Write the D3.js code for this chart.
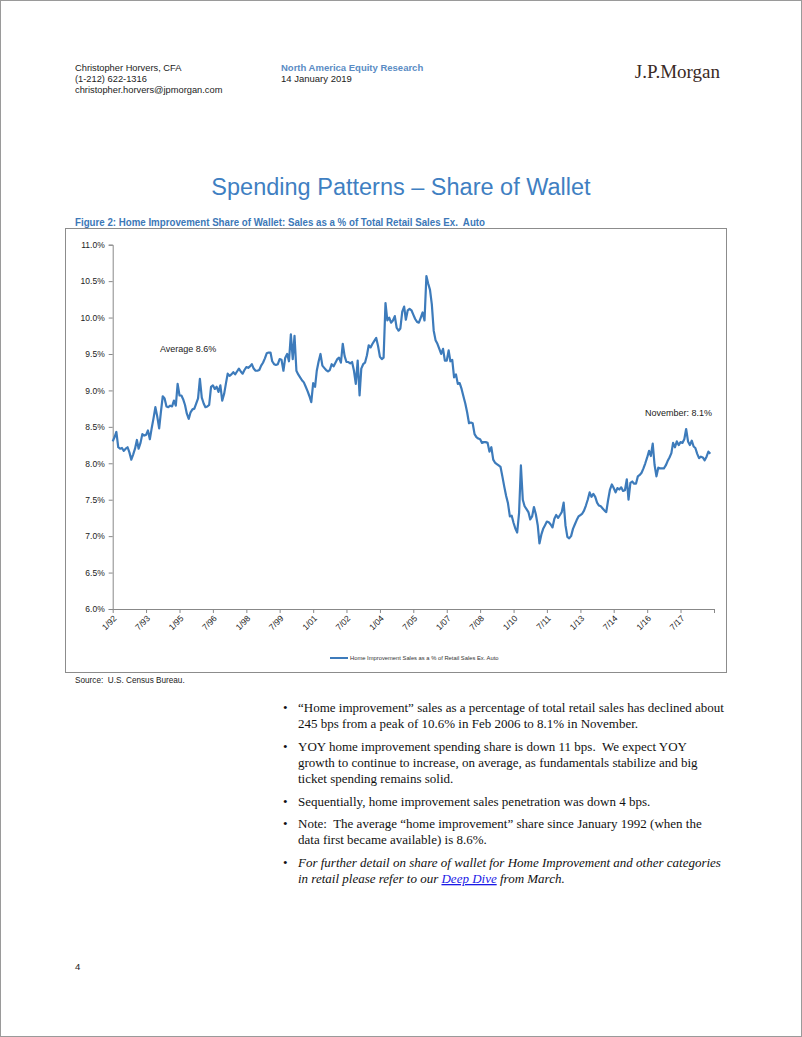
<!DOCTYPE html>
<html>
<head>
<meta charset="utf-8" />
<title>Spending Patterns - Share of Wallet</title>
<script src="https://d3js.org/d3.v7.min.js"></script>
<style>
    body { margin: 0; background: #fff; }
    svg text { font-family: "Liberation Sans", Arial, sans-serif; }
</style>
</head>
<body>
<svg id="page" width="802" height="1037"></svg>

<script>
    // Data: monthly share of wallet (%), Jan 1992 .. Nov 2018
    var startMonth = new Date(1992, 0, 1);
    var shareValues = [
        8.30, 8.36, 8.43, 8.22, 8.20, 8.21, 8.17, 8.20, 8.22, 8.15,
        8.05, 8.12, 8.20, 8.32, 8.20, 8.28, 8.40, 8.38, 8.39, 8.45,
        8.33, 8.48, 8.62, 8.77, 8.64, 8.48, 8.70, 8.92, 8.89, 8.78,
        8.77, 8.79, 8.78, 8.86, 8.79, 9.09, 8.93, 8.93, 8.88, 8.80,
        8.68, 8.61, 8.70, 8.74, 8.75, 8.82, 8.89, 9.16, 8.90, 8.82,
        8.77, 8.78, 8.80, 9.05, 9.07, 9.02, 9.05, 8.98, 9.07, 8.86,
        8.95, 9.10, 9.23, 9.20, 9.22, 9.25, 9.22, 9.26, 9.30, 9.26,
        9.23, 9.28, 9.32, 9.31, 9.33, 9.36, 9.30, 9.27, 9.27, 9.28,
        9.34, 9.38, 9.44, 9.51, 9.52, 9.52, 9.40, 9.36, 9.35, 9.36,
        9.43, 9.42, 9.27, 9.45, 9.50, 9.40, 9.77, 9.43, 9.75, 9.27,
        9.22, 9.18, 9.14, 9.11, 9.05, 8.99, 8.92, 8.84, 9.10, 9.05,
        9.27, 9.40, 9.50, 9.34, 9.31, 9.28, 9.26, 9.28, 9.36, 9.33,
        9.38, 9.43, 9.45, 9.38, 9.64, 9.47, 9.39, 9.39, 9.37, 9.39,
        9.27, 9.09, 9.41, 8.93, 9.30, 9.36, 9.38, 9.48, 9.62, 9.59,
        9.64, 9.68, 9.72, 9.61, 9.46, 9.43, 9.45, 10.20, 9.96, 10.00,
        9.93, 9.96, 10.02, 9.86, 9.82, 9.85, 10.08, 10.15, 9.97, 10.10,
        10.12, 10.10, 10.04, 9.98, 9.94, 9.93, 10.00, 10.07, 9.96, 10.57,
        10.47, 10.38, 10.18, 9.82, 9.69, 9.64, 9.57, 9.50, 9.57, 9.41,
        9.41, 9.55, 9.40, 9.42, 9.18, 9.22, 9.09, 9.10, 9.02, 8.92,
        8.82, 8.70, 8.55, 8.56, 8.55, 8.40, 8.36, 8.34, 8.33, 8.28,
        8.29, 8.29, 8.28, 8.16, 8.22, 8.05, 8.01, 7.99, 7.97, 7.95,
        7.82, 7.68, 7.55, 7.45, 7.27, 7.28, 7.18, 7.10, 7.05, 7.32,
        7.97, 7.50, 7.41, 7.37, 7.33, 7.23, 7.27, 7.40, 7.30, 7.15,
        6.90, 7.02, 7.10, 7.15, 7.20, 7.19, 7.16, 7.12, 7.24, 7.29,
        7.25, 7.29, 7.33, 7.46, 7.15, 6.99, 6.97, 7.00, 7.10, 7.16,
        7.22, 7.27, 7.29, 7.31, 7.35, 7.42, 7.50, 7.60, 7.54, 7.58,
        7.54, 7.46, 7.42, 7.41, 7.38, 7.35, 7.33, 7.50, 7.64, 7.71,
        7.66, 7.60, 7.66, 7.64, 7.67, 7.62, 7.63, 7.78, 7.50, 7.73,
        7.75, 7.72, 7.72, 7.82, 7.84, 7.87, 7.93, 8.00, 8.08, 8.17,
        8.10, 8.27, 7.98, 7.82, 7.94, 7.93, 7.93, 7.93, 7.97, 8.03,
        8.08, 8.14, 8.28, 8.22, 8.30, 8.25, 8.29, 8.28, 8.33, 8.47,
        8.30, 8.25, 8.31, 8.23, 8.21, 8.13, 8.07, 8.09, 8.08, 8.04,
        8.09, 8.16, 8.13
    ];

    // x tick labels, one every 18 months (last tick at 1/19 has no label)
    var tickLabels = ["1/92", "7/93", "1/95", "7/96", "1/98", "7/99", "1/01", "7/02", "1/04",
        "7/05", "1/07", "7/08", "1/10", "7/11", "1/13", "7/14", "1/16", "7/17", ""];
    var yTicks = [6.0, 6.5, 7.0, 7.5, 8.0, 8.5, 9.0, 9.5, 10.0, 10.5, 11.0];

    var seriesName = "Home Improvement Sales as a % of Retail Sales Ex. Auto";

    var lineColor = "#3d7bbb";
    var blue = "#3f7fc2";

    var svg = d3.select("#page");

    // page frame
    svg.append("rect")
        .attr("x", 0.5).attr("y", 0.5).attr("width", 801).attr("height", 1036)
        .attr("fill", "none").attr("stroke", "#9a9a9a");

    // header
    var hdr = [["Christopher Horvers, CFA", 67], ["(1-212) 622-1316", 78], ["christopher.horvers@jpmorgan.com", 89]];
    hdr.forEach(function (h) {
        svg.append("text").attr("x", 75).attr("y", h[1] + 3.5).text(h[0])
            .style("font-size", "9.3px").attr("fill", "#222");
    });
    svg.append("text").attr("x", 281).attr("y", 70.5).text("North America Equity Research")
        .style("font-size", "9.5px").style("font-weight", "bold").attr("fill", "#5a8cc4");
    svg.append("text").attr("x", 281).attr("y", 81.5).text("14 January 2019")
        .style("font-size", "9.5px").attr("fill", "#222");
    svg.append("text").attr("x", 720).attr("y", 78).attr("text-anchor", "end").text("J.P.Morgan")
        .style("font-family", "'Liberation Serif', 'Times New Roman', serif")
        .style("font-size", "19px").attr("fill", "#3a2a25");

    // title
    svg.append("text").attr("x", 401).attr("y", 195).attr("text-anchor", "middle")
        .text("Spending Patterns \u2013 Share of Wallet")
        .style("font-size", "23.5px").attr("fill", blue);

    svg.append("text").attr("x", 75).attr("y", 226)
        .text("Figure 2: Home Improvement Share of Wallet: Sales as a % of Total Retail Sales Ex.  Auto")
        .attr("xml:space", "preserve")
        .attr("textLength", 410).attr("lengthAdjust", "spacingAndGlyphs")
        .style("font-size", "11px").style("font-weight", "bold").attr("fill", "#3c78b8");

    // chart frame
    svg.append("rect")
        .attr("x", 65.5).attr("y", 228.5).attr("width", 661).attr("height", 444)
        .attr("fill", "#fff").attr("stroke", "#8c8c8c");

    // scales
    var months = shareValues.map(function (v, i) { return d3.timeMonth.offset(startMonth, i); });
    var endMonth = d3.timeMonth.offset(startMonth, 324);
    var x = d3.scaleTime().domain([startMonth, endMonth]).range([112.7, 714]);
    var y = d3.scaleLinear().domain([6, 11]).range([609, 244.7]);

    var tickDates = tickLabels.map(function (l, i) { return d3.timeMonth.offset(startMonth, i * 18); });

    // y axis
    var yAxis = svg.append("g")
        .attr("transform", "translate(112.7,0)")
        .call(d3.axisLeft(y).tickValues(yTicks).tickSize(4).tickPadding(4)
            .tickFormat(function (d) { return d.toFixed(1) + "%"; }));
    yAxis.select(".domain").attr("stroke", "#888");
    yAxis.selectAll(".tick line").attr("stroke", "#888");
    yAxis.selectAll("text").style("font-size", "8.5px").attr("fill", "#222");

    // x axis
    var xAxis = svg.append("g")
        .attr("transform", "translate(0,609)")
        .call(d3.axisBottom(x).tickValues(tickDates).tickSize(4).tickSizeOuter(0)
            .tickFormat(function (d, i) { return tickLabels[i]; }));
    xAxis.select(".domain").attr("stroke", "#888");
    xAxis.selectAll(".tick line").attr("stroke", "#888");
    xAxis.selectAll("text")
        .style("font-size", "8.5px").attr("fill", "#222")
        .attr("text-anchor", "end")
        .attr("dy", null).attr("y", 0)
        .attr("transform", "translate(4,10) rotate(-45)");

    // line
    var line = d3.line()
        .x(function (d, i) { return x(months[i]); })
        .y(function (d) { return y(d); });

    svg.append("path")
        .datum(shareValues)
        .attr("d", line)
        .attr("fill", "none")
        .attr("stroke", lineColor)
        .attr("stroke-width", 2.2)
        .attr("stroke-linejoin", "round");

    // annotations
    svg.append("text").attr("x", 160).attr("y", 352).text("Average 8.6%")
        .style("font-size", "9px").attr("fill", "#222");
    svg.append("text").attr("x", 645).attr("y", 416).text("November: 8.1%")
        .style("font-size", "9px").attr("fill", "#222");

    // legend
    svg.append("line").attr("x1", 330).attr("x2", 348).attr("y1", 658).attr("y2", 658)
        .attr("stroke", lineColor).attr("stroke-width", 2);
    svg.append("text").attr("x", 350).attr("y", 660).text(seriesName)
        .style("font-size", "5.8px").attr("fill", "#333");

    // source
    svg.append("text").attr("x", 75).attr("y", 683).text("Source:  U.S. Census Bureau.")
        .attr("xml:space", "preserve")
        .style("font-size", "8.2px").attr("fill", "#222");

    // bullets
    var serif = "'Liberation Serif', 'Times New Roman', serif";
    var bullets = [
        { y: [712, 728], lines: ["\u201cHome improvement\u201d sales as a percentage of total retail sales has declined about",
            "245 bps from a peak of 10.6% in Feb 2006 to 8.1% in November."] },
        { y: [751, 767, 783], lines: ["YOY home improvement spending share is down 11 bps.  We expect YOY",
            "growth to continue to increase, on average, as fundamentals stabilize and big",
            "ticket spending remains solid."] },
        { y: [806], lines: ["Sequentially, home improvement sales penetration was down 4 bps."] },
        { y: [828, 844], lines: ["Note:  The average \u201chome improvement\u201d share since January 1992 (when the",
            "data first became available) is 8.6%."] }
    ];
    bullets.forEach(function (b) {
        svg.append("text").attr("x", 283).attr("y", b.y[0]).text("\u2022")
            .style("font-family", serif).style("font-size", "13px").attr("fill", "#111");
        b.lines.forEach(function (l, i) {
            svg.append("text").attr("x", 298).attr("y", b.y[i]).text(l).attr("xml:space", "preserve")
                .style("font-family", serif).style("font-size", "13px").attr("fill", "#111");
        });
    });
    svg.append("text").attr("x", 283).attr("y", 867).text("\u2022")
        .style("font-family", serif).style("font-size", "13px").attr("fill", "#111");
    svg.append("text").attr("x", 298).attr("y", 867)
        .text("For further detail on share of wallet for Home Improvement and other categories")
        .style("font-family", serif).style("font-size", "13px").style("font-style", "italic").attr("fill", "#111");
    var last = svg.append("text").attr("x", 298).attr("y", 883)
        .style("font-family", serif).style("font-size", "13px").style("font-style", "italic").attr("fill", "#111");
    last.append("tspan").text("in retail please refer to our ");
    last.append("tspan").text("Deep Dive").attr("fill", "#1a1ae6").style("text-decoration", "underline");
    last.append("tspan").text(" from March.");

    // page number
    svg.append("text").attr("x", 75).attr("y", 970).text("4")
        .style("font-size", "9.5px").attr("fill", "#222");
</script>
</body>
</html>
